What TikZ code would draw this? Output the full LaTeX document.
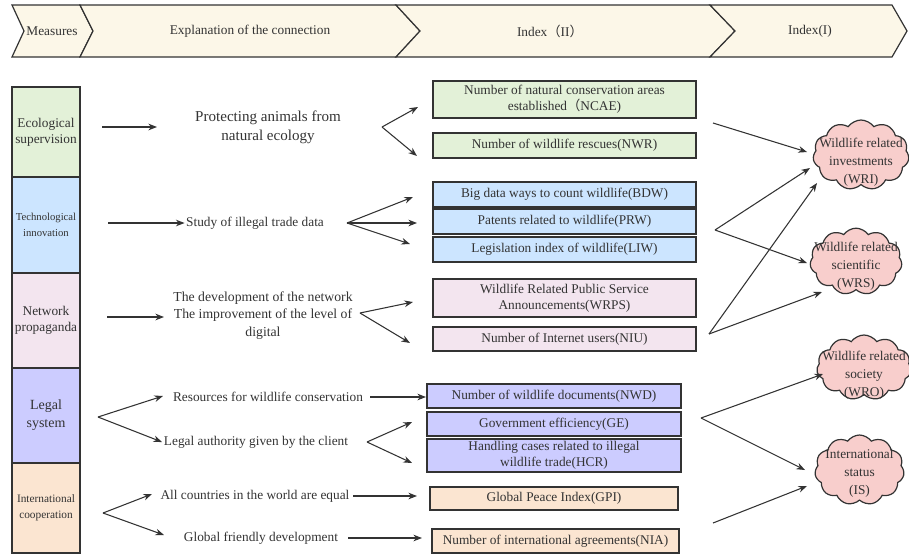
\documentclass[tikz,border=0pt]{standalone}
\usepackage{fontspec}
\setmainfont{Liberation Serif}
\newfontfamily\cjk{Noto Sans CJK SC}
\usetikzlibrary{arrows.meta,positioning,shapes,calc}

\definecolor{hdrfill}{HTML}{FCF7E8}
\definecolor{ecofill}{HTML}{E3F1D8}
\definecolor{techfill}{HTML}{CCE5FF}
\definecolor{netfill}{HTML}{F3E5EF}
\definecolor{lawfill}{HTML}{CCCCFF}
\definecolor{coopfill}{HTML}{FBE5D1}
\definecolor{cloudfill}{HTML}{F8CECC}
\definecolor{linegray}{HTML}{333333}
\definecolor{txtgray}{HTML}{333333}

\begin{document}
\begin{tikzpicture}[
    x=0.75pt,
    y=-0.75pt,
    >={Stealth[length=6.5pt,width=5pt]},
    every node/.style={text=txtgray},
    header/.style={
        draw=linegray,
        line width=0.9pt,
        fill=hdrfill
    },
    measure/.style={
        draw=linegray,
        line width=1pt,
        minimum width=51pt,
        align=center,
        inner sep=1pt,
        font=\fontsize{10}{12}\selectfont
    },
    index/.style={
        draw=linegray,
        line width=1.3pt,
        align=center,
        inner sep=0pt,
        font=\fontsize{10}{12}\selectfont
    },
    reason/.style={
        align=center,
        inner sep=1pt,
        font=\fontsize{10}{12}\selectfont
    },
    target/.style={
        cloud,
        cloud puffs=11,
        cloud puff arc=110,
        cloud ignores aspect,
        draw=linegray,
        line width=0.9pt,
        fill=cloudfill,
        inner sep=0pt
    },
    targettext/.style={
        align=center,
        inner sep=0pt,
        font=\fontsize{10}{13.5}\selectfont
    },
    link/.style={
        ->,
        draw=linegray,
        line width=0.8pt
    }
    ]
    \useasboundingbox (0,0) rectangle (909,554);

    % header
    \draw[header] (12,5) -- (80,5) -- (93,31) -- (80,57) -- (12,57) -- (24,31) -- cycle;
    \draw[header] (80,5) -- (396,5) -- (420,31) -- (396,57) -- (80,57) -- (93,31) -- cycle;
    \draw[header] (396,5) -- (710,5) -- (735,31) -- (710,57) -- (396,57) -- (420,31) -- cycle;
    \draw[header] (710,5) -- (892,5) -- (907,31) -- (892,57) -- (710,57) -- (735,31) -- cycle;
    \node[reason] (HMEAS) at (52,31) {Measures};
    \node[reason] (HEXPL) at (250,31) {Explanation of the connection};
    \node[reason] (HTWO) at (550,31) {Index{\cjk （}II{\cjk ）}};
    \node[reason] (HONE) at (810,31) {Index(I)};

    % measures
    \node[measure,fill=ecofill,minimum height=67.5pt] (ECO) at (46,132) {Ecological\\supervision};
    \node[measure,fill=techfill,minimum height=72pt,font=\fontsize{8}{11.5}\selectfont] (TECH) at (46,225) {Technological\\innovation};
    \node[measure,fill=netfill,minimum height=71.25pt] (NET) at (46,320.5) {Network\\propaganda};
    \node[measure,fill=lawfill,minimum height=71.25pt,font=\fontsize{10.5}{13.5}\selectfont] (LAW) at (46,415.5) {Legal\\system};
    \node[measure,fill=coopfill,minimum height=67.5pt,font=\fontsize{8.5}{12}\selectfont] (COOP) at (46,508) {International\\cooperation};

    % explanations
    \node[reason,font=\fontsize{11.3}{14.25}\selectfont] (PROTECT) at (268,127.5) {Protecting animals from\\natural ecology};
    \node[reason] (STUDY) at (255,223) {Study of illegal trade data};
    \node[reason,font=\fontsize{10.3}{13}\selectfont] (DEVELOP) at (263,315.5) {The development of the network\\The improvement of the level of\\digital};
    \node[reason] (RESOURCE) at (268,397) {Resources for wildlife conservation};
    \node[reason] (AUTHORITY) at (256,442) {Legal authority given by the client};
    \node[reason] (EQUAL) at (255,496) {All countries in the world are equal};
    \node[reason] (FRIENDLY) at (261,538) {Global friendly development};

    % index II
    \node[index,fill=ecofill,minimum width=197.25pt,minimum height=27.75pt] (NCAE) at (564.5,99.5) {Number of natural conservation areas\\established{\cjk （}NCAE)};
    \node[index,fill=ecofill,minimum width=197.25pt,minimum height=18.75pt] (NWR) at (564.5,145.5) {Number of wildlife rescues(NWR)};
    \node[index,fill=techfill,minimum width=197.25pt,minimum height=18.75pt] (BDW) at (564.5,194.5) {Big data ways to count wildlife(BDW)};
    \node[index,fill=techfill,minimum width=197.25pt,minimum height=18.75pt] (PRW) at (564.5,221.5) {Patents related to wildlife(PRW)};
    \node[index,fill=techfill,minimum width=197.25pt,minimum height=18.75pt] (LIW) at (564.5,249.5) {Legislation index of wildlife(LIW)};
    \node[index,fill=netfill,minimum width=197.25pt,minimum height=28.5pt] (WRPS) at (564.5,298) {Wildlife Related Public Service\\Announcements(WRPS)};
    \node[index,fill=netfill,minimum width=197.25pt,minimum height=18pt] (NIU) at (564.5,339) {Number of Internet users(NIU)};
    \node[index,fill=lawfill,minimum width=190.5pt,minimum height=18pt] (NWD) at (554,396) {Number of wildlife documents(NWD)};
    \node[index,fill=lawfill,minimum width=190.5pt,minimum height=18pt] (GE) at (554,424) {Government efficiency(GE)};
    \node[index,fill=lawfill,minimum width=190.5pt,minimum height=24.75pt] (HCR) at (554,455.5) {Handling cases related to illegal\\wildlife trade(HCR)};
    \node[index,fill=coopfill,minimum width=186pt,minimum height=17.25pt] (GPI) at (554,498.5) {Global Peace Index(GPI)};
    \node[index,fill=coopfill,minimum width=185.25pt,minimum height=18pt] (NIA) at (555.5,541) {Number of international agreements(NIA)};

    % index I
    \node[target,minimum width=72pt,minimum height=52.5pt] (WRI) at (861,155) {};
    \node[targettext] (WRITXT) at ($(WRI)+(0,7)$) {Wildlife related\\investments\\(WRI)};
    \node[target,minimum width=69pt,minimum height=50pt] (WRS) at (856,261.5) {};
    \node[targettext] (WRSTXT) at ($(WRS)+(0,4.5)$) {Wildlife related\\scientific\\(WRS)};
    \node[target,minimum width=71pt,minimum height=48.75pt] (WRO) at (864,367.5) {};
    \node[targettext] (WROTXT) at ($(WRO)+(0,7.5)$) {Wildlife related\\society\\(WRO)};
    \node[target,minimum width=67pt,minimum height=52.5pt] (IS) at (859.5,470) {};
    \node[targettext] (ISTXT) at ($(IS)+(0,3)$) {International\\status\\(IS)};

    % connector ends
    \coordinate (ECOOUT) at (102,127);
    \coordinate (PROTECTIN) at (157,127);
    \coordinate (PROTECTFAN) at (382,127);
    \coordinate (NCAEIN) at (418,107);
    \coordinate (NWRIN) at (417,156);
    \coordinate (TECHOUT) at (108,223);
    \coordinate (STUDYFAN) at (347,223);
    \coordinate (BDWIN) at (413,197);
    \coordinate (PRWIN) at (417,223);
    \coordinate (LIWIN) at (410,244);
    \coordinate (NETOUT) at (107,317);
    \coordinate (DEVELOPIN) at (164,317);
    \coordinate (DEVELOPFAN) at (360,313);
    \coordinate (WRPSIN) at (413,302);
    \coordinate (NIUIN) at (410,343);
    \coordinate (LAWFAN) at (98,417);
    \coordinate (RESOURCEIN) at (163,396);
    \coordinate (AUTHORITYIN) at (162,442);
    \coordinate (RESOURCEOUT) at (370,397);
    \coordinate (NWDIN) at (426,397);
    \coordinate (AUTHORITYFAN) at (367,442);
    \coordinate (GEIN) at (412,422);
    \coordinate (HCRIN) at (412,463);
    \coordinate (COOPFAN) at (103,513);
    \coordinate (EQUALIN) at (152,494);
    \coordinate (FRIENDLYIN) at (164,535);
    \coordinate (EQUALOUT) at (353,496);
    \coordinate (GPIIN) at (417,496);
    \coordinate (FRIENDLYOUT) at (348,538);
    \coordinate (NIAIN) at (422,538);
    \coordinate (ECOFAN) at (713,123);
    \coordinate (TECHFAN) at (715,230);
    \coordinate (NETFAN) at (709,334);
    \coordinate (LAWFANR) at (701,418);
    \coordinate (COOPOUT) at (713,523);
    \coordinate (WRIINA) at (807,152);
    \coordinate (WRIINB) at (810,168);
    \coordinate (WRIINC) at (817,183);
    \coordinate (WRSINA) at (807,263);
    \coordinate (WRSINB) at (822,292);
    \coordinate (WROIN) at (823,374);
    \coordinate (ISINA) at (805,470);
    \coordinate (ISINB) at (807,486);

    % measures to explanations
    \draw[link] (ECOOUT) -- (PROTECTIN);
    \draw[link] (TECHOUT) -- (STUDY.west);
    \draw[link] (NETOUT) -- (DEVELOPIN);
    \draw[link] (LAWFAN) -- (RESOURCEIN);
    \draw[link] (LAWFAN) -- (AUTHORITYIN);
    \draw[link] (COOPFAN) -- (EQUALIN);
    \draw[link] (COOPFAN) -- (FRIENDLYIN);

    % explanations to index II
    \draw[link] (PROTECTFAN) -- (NCAEIN);
    \draw[link] (PROTECTFAN) -- (NWRIN);
    \draw[link] (STUDYFAN) -- (BDWIN);
    \draw[link] (STUDYFAN) -- (PRWIN);
    \draw[link] (STUDYFAN) -- (LIWIN);
    \draw[link] (DEVELOPFAN) -- (WRPSIN);
    \draw[link] (DEVELOPFAN) -- (NIUIN);
    \draw[link] (RESOURCEOUT) -- (NWDIN);
    \draw[link] (AUTHORITYFAN) -- (GEIN);
    \draw[link] (AUTHORITYFAN) -- (HCRIN);
    \draw[link] (EQUALOUT) -- (GPIIN);
    \draw[link] (FRIENDLYOUT) -- (NIAIN);

    % index II to index I
    \draw[link] (ECOFAN) -- (WRIINA);
    \draw[link] (TECHFAN) -- (WRIINB);
    \draw[link] (TECHFAN) -- (WRSINA);
    \draw[link] (NETFAN) -- (WRIINC);
    \draw[link] (NETFAN) -- (WRSINB);
    \draw[link] (LAWFANR) -- (WROIN);
    \draw[link] (LAWFANR) -- (ISINA);
    \draw[link] (COOPOUT) -- (ISINB);
\end{tikzpicture}
\end{document}
